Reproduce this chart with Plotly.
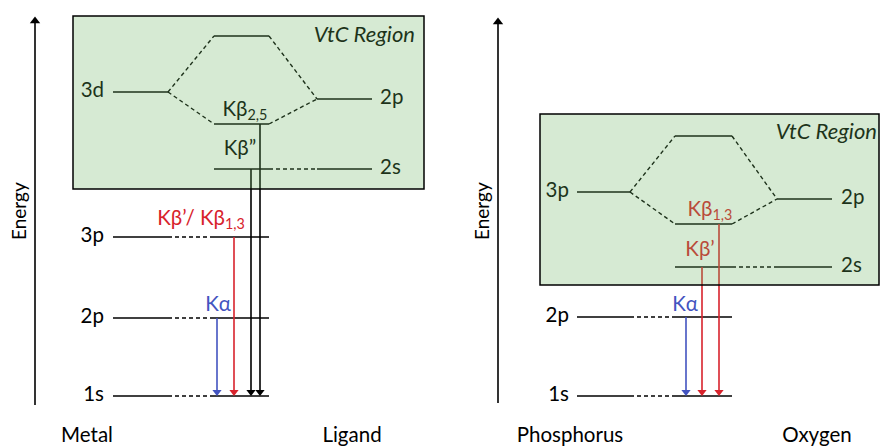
import plotly.graph_objects as go

# ---------------- data (energy in arbitrary units, higher = up) ----------------
# Left panel: metal / ligand
metal_core_labels = ["3p", "2p", "1s"]
metal_core_energy = [209, 128, 50]
metal_valence_label = "3d"
metal_valence_energy = 354
ligand_valence_label = "2p"
ligand_valence_energy = 347
ligand_core_labels = ["2s"]
ligand_core_energy = [277]
left_mo_energy = [410, 322]          # antibonding, bonding

# Right panel: phosphorus / oxygen
p_core_labels = ["2p", "1s"]
p_core_energy = [129, 50]
p_valence_label = "3p"
p_valence_energy = 254
o_valence_label = "2p"
o_valence_energy = 247
o_core_labels = ["2s"]
o_core_energy = [179]
right_mo_energy = [310, 222]

# transitions: (upper level energy, colour key)
left_transitions_from = [128, 209, 277, 322]
left_transitions_col = ["blue", "red", "black", "black"]
right_transitions_from = [129, 179, 222]
right_transitions_col = ["blue", "red", "red"]

bottom_titles = ["Metal", "Ligand", "Phosphorus", "Oxygen"]

# ---------------- styles ----------------
COL = {"blue": "#4354c0", "red": "#d8232c", "black": "black"}
FONT = "Lato"
FS = 20.5
LW = 1.7

fig = go.Figure()


def seg(x0, x1, y0, y1, color="black", dash=None, width=LW):
    fig.add_trace(go.Scatter(x=[x0, x1], y=[y0, y1], mode="lines",
                             line=dict(color=color, width=width, dash=dash),
                             hoverinfo="skip", showlegend=False, cliponaxis=False))


def txt(x, y, s, color="black", size=FS, pos="middle center"):
    fig.add_trace(go.Scatter(x=[x], y=[y], mode="text", text=[s], textposition=pos,
                             textfont=dict(color=color, size=size, family=FONT),
                             hoverinfo="skip", showlegend=False, cliponaxis=False))


def arrow(x, y_top, y_bot, color):
    seg(x, x, y_top, y_bot + 2, color=color, width=1.6)
    fig.add_trace(go.Scatter(x=[x], y=[y_bot + 4], mode="markers",
                             marker=dict(symbol="triangle-down", size=8, color=color,
                                         line=dict(width=0)),
                             hoverinfo="skip", showlegend=False, cliponaxis=False))


DASH = "4px,3px"


def panel(A, M, B, a_core_l, a_core_e, a_val_l, a_val_e, b_val_l, b_val_e,
          b_core_l, b_core_e, mo_e, trans_from, trans_col, trans_x, label_a_x, label_b_x):
    # valence levels + MO correlation lines
    seg(A[0], A[1], a_val_e, a_val_e)
    txt(label_a_x, a_val_e, a_val_l, pos="middle left")
    seg(B[0], B[1], b_val_e, b_val_e)
    txt(label_b_x, b_val_e, b_val_l, pos="middle right")
    for e in mo_e:
        seg(M[0], M[1], e, e)
        seg(A[1], M[0], a_val_e, e, dash=DASH, width=1.4)
        seg(M[1], B[0], e, b_val_e, dash=DASH, width=1.4)
    # core levels of atom A
    for l, e in zip(a_core_l, a_core_e):
        seg(A[0], A[1], e, e)
        seg(A[1], M[0], e, e, dash=DASH, width=1.4)
        seg(M[0], M[1], e, e)
        txt(label_a_x, e, l, pos="middle left")
    # core levels of atom B
    for l, e in zip(b_core_l, b_core_e):
        seg(B[0], B[1], e, e)
        seg(M[1], B[0], e, e, dash=DASH, width=1.4)
        seg(M[0], M[1], e, e)
        txt(label_b_x, e, l, pos="middle right")
    # transitions
    bottom = min(a_core_e)
    for e, c, x in zip(trans_from, trans_col, trans_x):
        arrow(x, e, bottom, COL[c])


# left panel
panel((113, 168), (214, 269), (317, 372),
      metal_core_labels, metal_core_energy, metal_valence_label, metal_valence_energy,
      ligand_valence_label, ligand_valence_energy, ligand_core_labels, ligand_core_energy,
      left_mo_energy, left_transitions_from, left_transitions_col,
      [217, 234, 251, 260], 104, 380)

# right panel
panel((577, 630), (675, 732), (777, 832),
      p_core_labels, p_core_energy, p_valence_label, p_valence_energy,
      o_valence_label, o_valence_energy, o_core_labels, o_core_energy,
      right_mo_energy, right_transitions_from, right_transitions_col,
      [686, 702, 719], 569, 841)

# transition labels
txt(245, 335, "Kβ<sub>2,5</sub>")
txt(240, 296, "Kβ”")
txt(201, 226, "Kβ’/ Kβ<sub>1,3</sub>", color=COL["red"])
txt(218, 140, "Kα", color=COL["blue"])
txt(710, 235, "Kβ<sub>1,3</sub>", color=COL["red"])
txt(700, 195, "Kβ’", color=COL["red"])
txt(685, 140, "Kα", color=COL["blue"])

# VtC region labels
txt(415, 410, "<i>VtC Region</i>", size=22, pos="middle left")
txt(877, 313, "<i>VtC Region</i>", size=22, pos="middle left")

# bottom titles
for x, s in zip([87, 352, 570, 817], bottom_titles):
    txt(x, 9, s)

# energy axes
for x, y0, y1 in [(35, 41, 429), (498, 43, 428)]:
    seg(x, x, y0, y1 - 6, width=1.6)
    fig.add_trace(go.Scatter(x=[x], y=[y1 - 4], mode="markers",
                             marker=dict(symbol="triangle-up", size=9, color="black",
                                         line=dict(width=0)),
                             hoverinfo="skip", showlegend=False, cliponaxis=False))
for x in [18, 481]:
    fig.add_annotation(x=x, y=235, text="Energy", textangle=-90, showarrow=False,
                       font=dict(family=FONT, size=19, color="black"))

# VtC boxes (translucent green overlay above lines/text)
for x0, x1, y0, y1 in [(73, 424, 257, 430), (540, 879, 161, 332)]:
    fig.add_shape(type="rect", x0=x0, x1=x1, y0=y0, y1=y1, layer="above",
                  fillcolor="rgba(107,178,96,0.28)", line=dict(color="black", width=1.5))

fig.update_layout(
    width=880, height=446, margin=dict(l=0, r=0, t=0, b=0),
    plot_bgcolor="white", paper_bgcolor="white", showlegend=False,
    xaxis=dict(range=[0, 880], visible=False, fixedrange=True),
    yaxis=dict(range=[0, 446], visible=False, fixedrange=True),
)

fig.write_html("out.html", config={"displayModeBar": False},
               post_script="document.body.style.margin='0px';")
